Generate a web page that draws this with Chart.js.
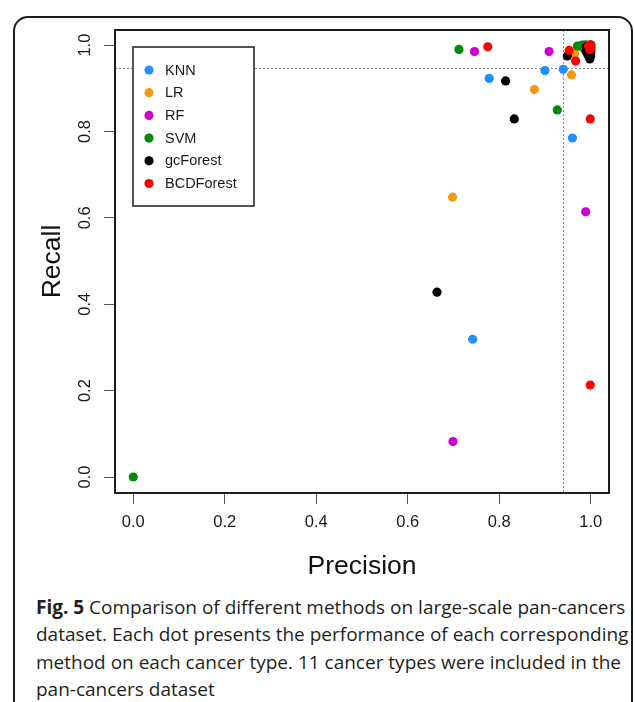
<!DOCTYPE html>
<html><head><meta charset="utf-8">
<script src="https://cdn.jsdelivr.net/npm/chart.js@4.4.1/dist/chart.umd.min.js"></script>
<style>
html,body{margin:0;padding:0;background:#fff;width:635px;height:702px;overflow:hidden;}
#frame{position:absolute;left:13px;top:16px;width:616px;height:780px;border:2px solid #1b1b1b;border-radius:15px;}
#wrap{position:absolute;left:0;top:0;width:635px;height:590px;}
.cap{position:absolute;left:36px;font-family:"Open Sans",sans-serif;font-size:19px;color:#231f20;white-space:nowrap;line-height:22px;}
</style></head><body>
<div id="frame"></div>
<div id="wrap"><canvas id="c" width="635" height="590"></canvas></div>
<div class="cap" style="top:595.5px"><b>Fig. 5</b> Comparison of different methods on large-scale pan-cancers</div>
<div class="cap" style="top:623px">dataset. Each dot presents the performance of each corresponding</div>
<div class="cap" style="top:650.5px">method on each cancer type. 11 cancer types were included in the</div>
<div class="cap" style="top:678px">pan-cancers dataset</div>
<script>
// ---- data ----
const methods = ["KNN", "LR", "RF", "SVM", "gcForest", "BCDForest"];
const methodColors = ["#1E90FF", "#F39A12", "#CD00CD", "#008B00", "#000000", "#FF0000"];

const knnPrecision = [0.900, 0.940, 0.778, 0.960, 0.742, 1.000, 0.990, 1.000, 0.980, 1.000, 0.990];
const knnRecall    = [0.941, 0.944, 0.923, 0.785, 0.319, 1.000, 0.990, 0.990, 1.000, 1.000, 1.000];

const lrPrecision  = [0.958, 0.877, 0.698, 0.965, 1.000, 0.990, 1.000, 0.980, 0.990, 1.000, 0.995];
const lrRecall     = [0.931, 0.897, 0.648, 0.980, 1.000, 0.995, 0.985, 0.995, 0.985, 0.990, 1.000];

const rfPrecision  = [0.746, 0.909, 0.989, 0.699, 1.000, 1.000, 0.990, 0.995, 1.000, 0.985, 0.995];
const rfRecall     = [0.985, 0.985, 0.614, 0.082, 0.981, 1.000, 0.995, 0.990, 0.990, 1.000, 0.985];

const svmPrecision = [0.712, 0.927, 0.000, 0.971, 0.982, 0.990, 1.000, 0.995, 1.000, 0.985, 0.990];
const svmRecall    = [0.990, 0.850, 0.000, 0.998, 0.998, 0.995, 1.000, 0.990, 0.995, 0.995, 1.000];

const gcPrecision  = [0.664, 0.814, 0.833, 0.949, 0.991, 0.994, 0.998, 0.995, 1.000, 0.990, 1.000];
const gcRecall     = [0.428, 0.917, 0.829, 0.975, 0.996, 0.977, 0.968, 0.990, 0.985, 0.985, 0.975];

const bcdPrecision = [0.775, 0.953, 0.967, 0.999, 0.999, 0.999, 0.998, 1.000, 1.000, 0.995, 1.000];
const bcdRecall    = [0.996, 0.988, 0.963, 0.829, 0.213, 0.998, 0.990, 1.000, 0.995, 0.998, 0.993];

const precisionTicks = [0.0, 0.2, 0.4, 0.6, 0.8, 1.0];
const recallTicks    = [0.0, 0.2, 0.4, 0.6, 0.8, 1.0];
const refPrecision = 0.939;
const refRecall = 0.948;

const seriesX = [knnPrecision, lrPrecision, rfPrecision, svmPrecision, gcPrecision, bcdPrecision];
const seriesY = [knnRecall, lrRecall, rfRecall, svmRecall, gcRecall, bcdRecall];

const FONT = '"Liberation Sans", Arial, Helvetica, sans-serif';

const datasets = methods.map((m, i) => ({
  label: m,
  data: seriesX[i].map((x, k) => ({ x: x, y: seriesY[i][k] })),
  backgroundColor: methodColors[i],
  borderWidth: 0,
  pointRadius: 4.6,
  pointHoverRadius: 4.6,
  order: methods.length - 1 - i
}));

const refLinesPlugin = {
  id: 'refLines',
  beforeDatasetsDraw(chart) {
    const { ctx, chartArea: a, scales } = chart;
    const px = scales.x.getPixelForValue(refPrecision);
    const py = scales.y.getPixelForValue(refRecall);
    ctx.save();
    ctx.strokeStyle = '#8a8a8a';
    ctx.lineWidth = 1;
    ctx.setLineDash([2, 2]);
    ctx.beginPath();
    ctx.moveTo(Math.round(px) + 0.5, a.top);
    ctx.lineTo(Math.round(px) + 0.5, a.bottom);
    ctx.moveTo(a.left, Math.round(py) + 0.5);
    ctx.lineTo(a.right, Math.round(py) + 0.5);
    ctx.stroke();
    ctx.restore();
  }
};

const boxLegendPlugin = {
  id: 'boxLegend',
  afterDraw(chart) {
    const { ctx, chartArea: a } = chart;
    ctx.save();
    // plot frame
    ctx.strokeStyle = '#1e1e1e';
    ctx.lineWidth = 2;
    ctx.strokeRect(a.left, a.top, a.right - a.left, a.bottom - a.top);
    // legend box
    const lx = a.left + 18, ly = a.top + 17, lw = 121, lh = 159;
    ctx.fillStyle = '#fff';
    ctx.fillRect(lx, ly, lw, lh);
    ctx.lineWidth = 1.5;
    ctx.strokeRect(lx, ly, lw, lh);
    ctx.font = '14.5px ' + FONT;
    ctx.textBaseline = 'middle';
    ctx.textAlign = 'left';
    chart.data.datasets.forEach((ds, i) => {
      const cy = ly + 23 + i * 22.7;
      ctx.fillStyle = ds.backgroundColor;
      ctx.beginPath();
      ctx.arc(lx + 16, cy, 4.6, 0, Math.PI * 2);
      ctx.fill();
      ctx.fillStyle = '#1a1a1a';
      ctx.fillText(ds.label, lx + 32, cy + 0.5);
    });
    ctx.restore();
  }
};

new Chart(document.getElementById('c'), {
  type: 'scatter',
  data: { datasets },
  options: {
    responsive: false,
    animation: false,
    events: [],
    layout: { padding: { top: 30, right: 26, left: 0, bottom: 0 } },
    plugins: { legend: { display: false }, tooltip: { enabled: false } },
    scales: {
      x: {
        type: 'linear', min: -0.04, max: 1.04,
        afterBuildTicks: s => { s.ticks = precisionTicks.map(v => ({ value: v })); },
        afterFit: s => { s.height = 97; },
        border: { display: false },
        grid: { drawOnChartArea: false, drawTicks: true, tickLength: 11, color: '#555', lineWidth: 1 },
        ticks: { autoSkip: false, padding: 9, color: '#1a1a1a', font: { family: FONT, size: 16.5 },
                 maxRotation: 0, minRotation: 0, callback: v => v.toFixed(1) },
        title: { display: true, text: 'Precision', color: '#111', font: { family: FONT, size: 26.5, lineHeight: 1 },
                 padding: { top: 0, bottom: 10 } }
      },
      y: {
        type: 'linear', min: -0.037, max: 1.035,
        afterBuildTicks: s => { s.ticks = recallTicks.map(v => ({ value: v })); },
        afterFit: s => { s.width = 115; },
        border: { display: false },
        grid: { drawOnChartArea: false, drawTicks: true, tickLength: 11, color: '#555', lineWidth: 1 },
        ticks: { autoSkip: false, padding: 7.5, crossAlign: 'center', color: '#1a1a1a', font: { family: FONT, size: 16.5 },
                 minRotation: 90, maxRotation: 90, callback: v => v.toFixed(1) },
        title: { display: true, text: 'Recall', color: '#111', font: { family: FONT, size: 26.5, lineHeight: 1 },
                 padding: { top: 39, bottom: 0 } }
      }
    }
  },
  plugins: [refLinesPlugin, boxLegendPlugin]
});
</script>
</body></html>
